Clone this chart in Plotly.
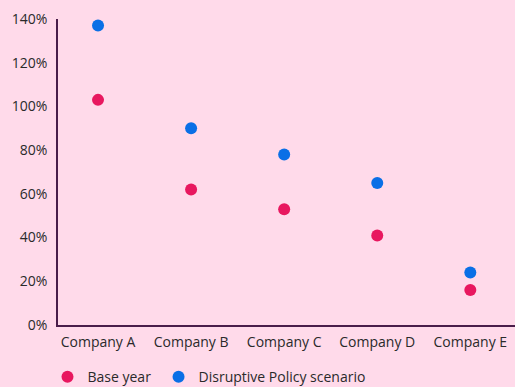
import plotly.graph_objects as go

companies = ["Company A", "Company B", "Company C", "Company D", "Company E"]
base_year = [103, 62, 53, 41, 16]
disruptive = [137, 90, 78, 65, 24]
y_ticks = [0, 20, 40, 60, 80, 100, 120, 140]
y_tick_labels = [f"{v}%" for v in y_ticks]

bg = "#FFDAEA"
font_family = "'Open Sans', 'Noto Sans', sans-serif"
text_color = "#2a2a2a"

fig = go.Figure()
fig.add_trace(go.Scatter(
    x=companies, y=base_year, mode="markers", name="Base year",
    marker=dict(color="#E8175F", size=12), legend="legend",
))
fig.add_trace(go.Scatter(
    x=companies, y=disruptive, mode="markers", name="Disruptive Policy scenario",
    marker=dict(color="#0A6FE6", size=12), legend="legend2",
))

legend_style = dict(orientation="h", xanchor="left", y=-0.118, yanchor="top",
                    font=dict(size=14, color=text_color), itemsizing="constant",
                    itemwidth=30, bgcolor="rgba(0,0,0,0)")

fig.update_layout(
    width=515, height=387,
    paper_bgcolor=bg, plot_bgcolor=bg,
    margin=dict(l=58, r=0, t=19, b=62, autoexpand=False),
    font=dict(family=font_family, size=14, color=text_color),
    showlegend=True,
    legend=dict(x=-0.023, **legend_style),
    legend2=dict(x=0.220, **legend_style),
    xaxis=dict(
        range=[-0.43, 4.48], showgrid=False, zeroline=False,
        showline=True, linecolor="#4A1D4A", linewidth=1.5,
        ticks="", ticklabelstandoff=3, tickfont=dict(size=14, color=text_color),
    ),
    yaxis=dict(
        range=[0, 140], tickvals=y_ticks, ticktext=y_tick_labels,
        showgrid=False, zeroline=False,
        showline=True, linecolor="#4A1D4A", linewidth=1.5,
        ticks="", ticklabelstandoff=6, tickfont=dict(size=14, color=text_color),
    ),
)

fig.write_html("out.html")
